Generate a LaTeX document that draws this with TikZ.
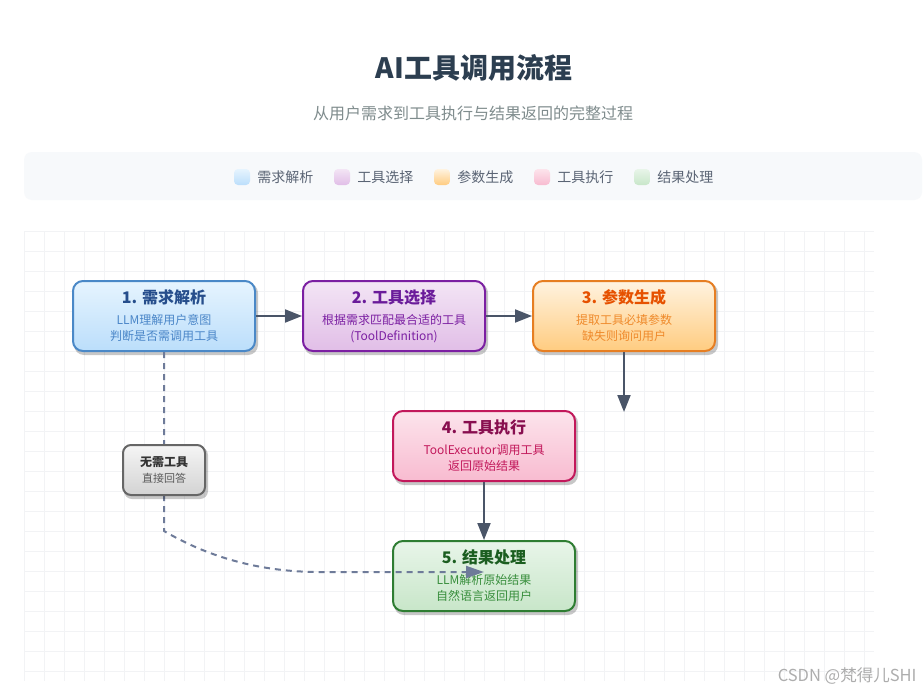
\documentclass[tikz,border=0pt]{standalone}
\usepackage{fontspec}
\setmainfont{Noto Sans CJK SC}
\usetikzlibrary{arrows.meta, positioning, calc}
\definecolor{slate}{HTML}{4A5568}
\definecolor{dashc}{HTML}{6E7B99}
\definecolor{titlec}{HTML}{2C3E50}
\definecolor{subc}{HTML}{7F8C8D}
\definecolor{legendbg}{HTML}{F7F9FB}
\definecolor{legendtxt}{HTML}{5A6474}
\definecolor{gridc}{HTML}{F2F3F5}
\definecolor{bluelight}{HTML}{E6F4FE}
\definecolor{bluedark}{HTML}{BBDEFB}
\definecolor{blueline}{HTML}{4A88C7}
\definecolor{bluetitle}{HTML}{264E8C}
\definecolor{bluesub}{HTML}{4A86C8}
\definecolor{purplelight}{HTML}{F3E5F5}
\definecolor{purpledark}{HTML}{E1BEE7}
\definecolor{purpleline}{HTML}{7B1FA2}
\definecolor{purpletitle}{HTML}{6A1B9A}
\definecolor{orangelight}{HTML}{FFF3E0}
\definecolor{orangedark}{HTML}{FFCC80}
\definecolor{orangeline}{HTML}{E67E22}
\definecolor{orangetitle}{HTML}{E65100}
\definecolor{orangesub}{HTML}{EF8A2B}
\definecolor{pinklight}{HTML}{FCE4EC}
\definecolor{pinkdark}{HTML}{F8BBD0}
\definecolor{pinkline}{HTML}{C2185B}
\definecolor{pinktitle}{HTML}{880E4F}
\definecolor{greenlight}{HTML}{E8F5E9}
\definecolor{greendark}{HTML}{C8E6C9}
\definecolor{greenline}{HTML}{2E7D32}
\definecolor{greentitle}{HTML}{1B5E20}
\definecolor{greensub}{HTML}{388E3C}
\definecolor{graylight}{HTML}{F5F5F5}
\definecolor{graydark}{HTML}{D3D3D3}
\definecolor{grayline}{HTML}{666666}

\newcommand{\steptitle}[2]{{\color{#1}\bfseries\fontsize{16}{16}\selectfont #2}}

\tikzset{
  stepbox/.style={rounded corners=10pt, line width=2pt, minimum width=182, minimum height=70,
    align=center, font=\fontsize{12}{16}\selectfont, shading angle=45},
  boxshadow/.style={rounded corners=10pt, fill=black, opacity=0.22, minimum width=184, minimum height=72},
  flow/.style={line width=2pt, slate, -{Triangle[length=17pt, width=13pt]}},
  dashflow/.style={line width=2pt, dashc, dash pattern=on 6pt off 5pt,
    -{Triangle[length=18pt, width=12pt]}},
  gridline/.style={gridc, line width=0.8pt},
  legswatch/.style={rounded corners=4pt, minimum size=16, inner sep=0pt, shading angle=45},
  legtext/.style={inner sep=0pt, text=legendtxt, font=\fontsize{14}{14}\selectfont},
}

\begin{document}
\begin{tikzpicture}[x=1pt, y=-1pt]
  \useasboundingbox[fill=white] (0,0) rectangle (923,693);
  % Header
  \node[titlec, font=\bfseries\fontsize{28}{32}\selectfont] (title) at (474,68) {AI工具调用流程};
  \node[subc, font=\fontsize{16}{18}\selectfont] (subtitle) at (473,113) {从用户需求到工具执行与结果返回的完整过程};
  % Legend
  \fill[legendbg, rounded corners=8pt] (24,152) rectangle (922,200);
  \foreach \lx/\lname/\la/\lb in {234/需求解析/bluelight/bluedark, 334/工具选择/purplelight/purpledark,
      434/参数生成/orangelight/orangedark, 534/工具执行/pinklight/pinkdark, 634/结果处理/greenlight/greendark} {
    \node[legswatch, top color=\la, bottom color=\lb] (sw\lx) at (\lx+8,177) {};
    \node[legtext, right=7pt of sw\lx] (lt\lx) {\lname};
  }
  % Grid
  \foreach \gx in {24,44,...,864}
    \draw[gridline] (\gx,231) -- (\gx,681);
  \foreach \gy in {231,251,...,671}
    \draw[gridline] (24,\gy) -- (874,\gy);
  % Shadows
  \foreach \sx/\sy in {164/316, 394/316, 624/316, 484/446, 484/576}
    \node[boxshadow] (sh\sx-\sy) at (\sx+2,\sy+3) {};
  % Steps
  \node[stepbox, draw=blueline, top color=bluelight, bottom color=bluedark, text=bluesub] (n1) at (164,316)
    {\steptitle{bluetitle}{1. 需求解析}\\[5pt]LLM理解用户意图\\判断是否需调用工具};
  \node[stepbox, draw=purpleline, top color=purplelight, bottom color=purpledark, text=purpleline] (n2) at (394,316)
    {\steptitle{purpletitle}{2. 工具选择}\\[5pt]根据需求匹配最合适的工具\\(ToolDefinition)};
  \node[stepbox, draw=orangeline, top color=orangelight, bottom color=orangedark, text=orangesub] (n3) at (624,316)
    {\steptitle{orangetitle}{3. 参数生成}\\[5pt]提取工具必填参数\\缺失则询问用户};
  \node[stepbox, draw=pinkline, top color=pinklight, bottom color=pinkdark, text=pinkline] (n4) at (484,446)
    {\steptitle{pinktitle}{4. 工具执行}\\[5pt]ToolExecutor调用工具\\返回原始结果};
  \node[stepbox, draw=greenline, top color=greenlight, bottom color=greendark, text=greensub] (n5) at (484,576)
    {\steptitle{greentitle}{5. 结果处理}\\[5pt]LLM解析原始结果\\自然语言返回用户};
  % Arrows
  \coordinate (a3end) at (624,412);
  \draw[flow] (n1.east) -- (n2.west);
  \draw[flow] (n2.east) -- (n3.west);
  \draw[flow] (n3.south) -- (a3end);
  \draw[flow] (n4.south) -- (n5.north);
  % Shortcut when no tool is needed
  \coordinate (dashend) at (484,572);
  \draw[dashflow] (n1.south) -- (164,531) .. controls (200,552) and (250,572) .. (320,572) -- (dashend);
  \node[boxshadow, minimum width=84, minimum height=52, rounded corners=8pt] (shskip) at (166,473) {};
  \node[stepbox, draw=grayline, top color=graylight, bottom color=graydark, text=black!65, minimum width=82,
    minimum height=50, rounded corners=8pt, font=\fontsize{11}{14}\selectfont] (skip) at (164,470)
    {{\color{black!80}\bfseries\fontsize{12}{12}\selectfont 无需工具}\\[2pt]直接回答};
  % Watermark
  \node[anchor=east, text=black!32, font=\fontsize{16.5}{16.5}\selectfont] (mark) at (920,676) {CSDN @梵得儿SHI};
\end{tikzpicture}
\end{document}
